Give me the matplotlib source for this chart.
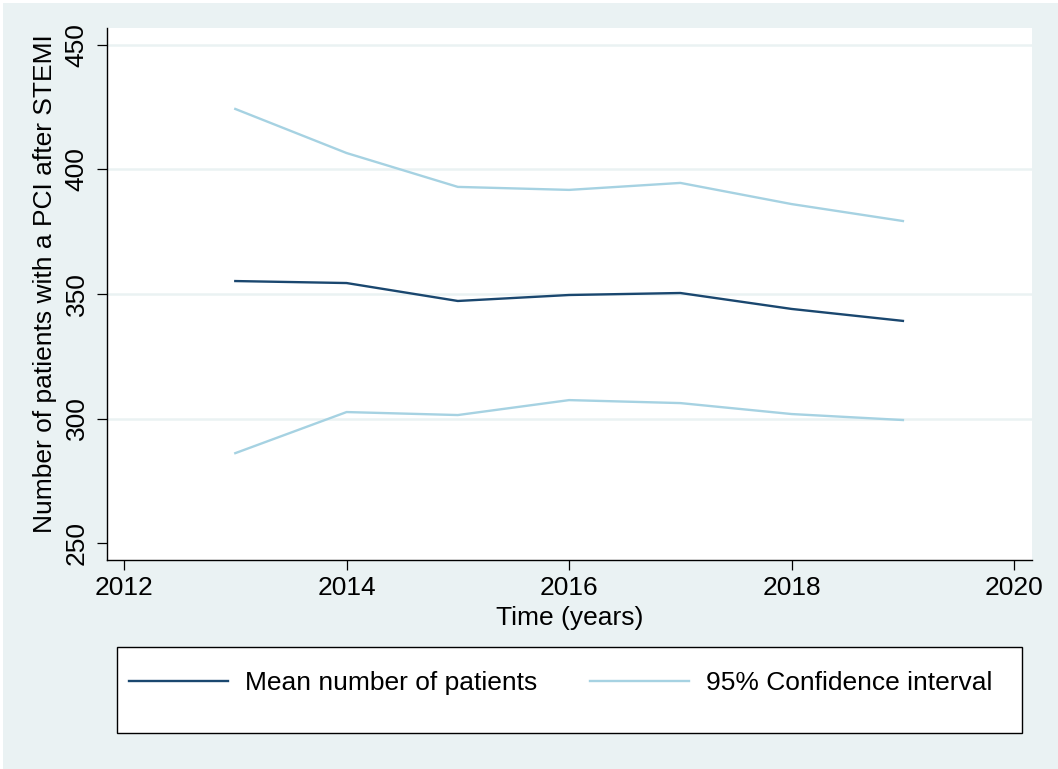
import matplotlib.pyplot as plt
from matplotlib.patches import Rectangle

plt.rcParams['font.family'] = ['Liberation Sans', 'DejaVu Sans']

years = [2013, 2014, 2015, 2016, 2017, 2018, 2019]
mean_patients = [355.2, 354.4, 347.2, 349.6, 350.4, 344.0, 339.2]
ci_upper = [424.3, 406.6, 393.0, 391.8, 394.6, 386.1, 379.3]
ci_lower = [286.1, 302.6, 301.4, 307.4, 306.2, 301.8, 299.4]

x_ticks = [2012, 2014, 2016, 2018, 2020]
y_ticks = [250, 300, 350, 400, 450]

navy = '#1a476f'
ltblue = '#a6d2e2'
bg = '#eaf2f3'
fs = 19

W, H = 1058, 769
fig = plt.figure(figsize=(W / 100, H / 100), dpi=100, facecolor='white')
fig.patches.append(Rectangle((3 / W, 0), 1 - 3 / W, 1 - 3 / H, transform=fig.transFigure,
                             facecolor=bg, edgecolor='none', zorder=-10))

ax = fig.add_axes([107 / W, 1 - 560 / H, (1032 - 107) / W, (560 - 28) / H])
ax.set_facecolor('white')

ax.plot(years, mean_patients, color=navy, lw=1.7, label='Mean number of patients', zorder=3)
ax.plot(years, ci_upper, color=ltblue, lw=1.7, label='95% Confidence interval', zorder=3)
ax.plot(years, ci_lower, color=ltblue, lw=1.7, zorder=3)

ax.set_xlim(2011.847, 2020.16)
ax.set_ylim(243.2, 456.8)
ax.set_xticks(x_ticks)
ax.set_yticks(y_ticks)
ax.set_yticklabels([str(v) for v in y_ticks], rotation=90, va='center')

ax.grid(axis='y', color=bg, lw=1.8)
ax.yaxis.get_gridlines()[0].set_visible(False)
ax.set_axisbelow(True)

for s in ['top', 'right']:
    ax.spines[s].set_visible(False)
for s in ['left', 'bottom']:
    ax.spines[s].set_linewidth(1.0)
    ax.spines[s].set_color('black')

ax.tick_params(axis='both', length=7.2, width=0.9, labelsize=fs, colors='black')
ax.tick_params(axis='x', pad=4)
ax.tick_params(axis='y', pad=6)

ax.set_xlabel('Time (years)', fontsize=fs, labelpad=5)
fig.text(45 / W, 1 - 284 / H, 'Number of patients with a PCI after STEMI', fontsize=fs,
         rotation=90, ha='center', va='center')

# legend box below the plot
fig.patches.append(Rectangle((117 / W, 1 - 733 / H), (1022 - 117) / W, (733 - 647) / H,
                             transform=fig.transFigure, facecolor='white',
                             edgecolor='black', lw=1.0, zorder=1))
handles, labels = ax.get_legend_handles_labels()
leg = fig.legend(handles, labels, loc='center left', bbox_to_anchor=(129 / W, 1 - 683 / H),
                 ncol=2, frameon=False, fontsize=fs, handlelength=3.75, handletextpad=0.64,
                 columnspacing=2.0, borderpad=0, borderaxespad=0)
leg.set_zorder(2)

fig.savefig('out.png', dpi=100, facecolor='white')
